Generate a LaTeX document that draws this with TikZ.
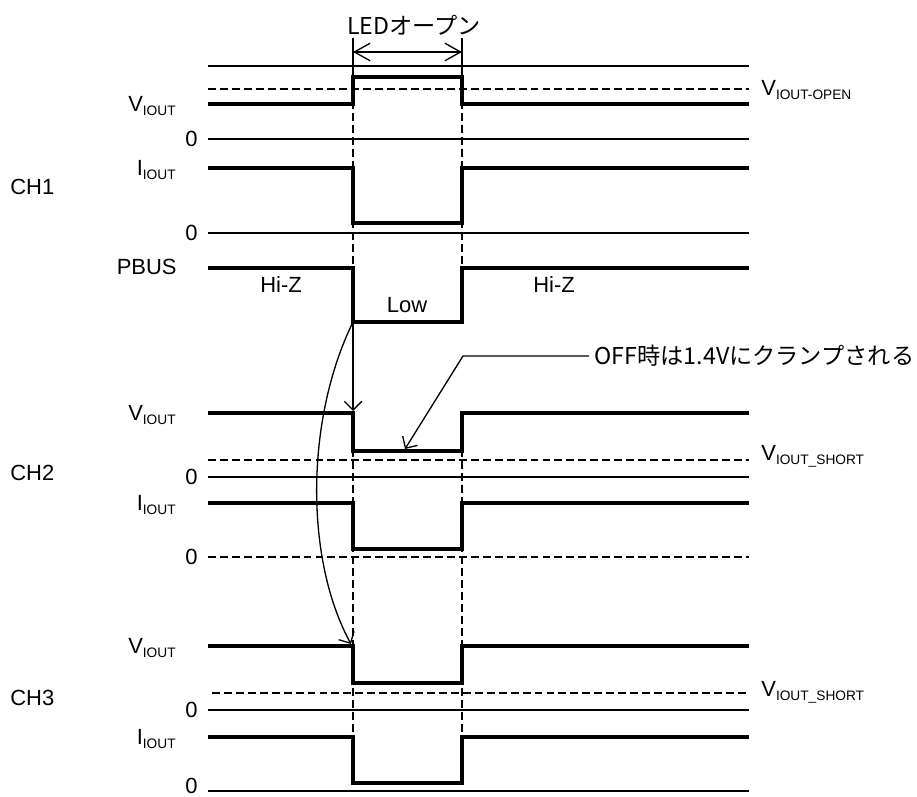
\documentclass[tikz,border=0pt]{standalone}
\usepackage{fontspec}
\setmainfont{Liberation Sans}
\newfontfamily\jpfont{Noto Sans CJK JP}
\usetikzlibrary{arrows.meta}
\newcommand{\lowtxt}[1]{\raisebox{-0.35ex}{\fontsize{7.8}{9}\selectfont #1}}
\tikzset{
  sig/.style={line width=2pt},
  fine/.style={line width=0.75pt},
  lvl/.style={line width=1.5pt,dash pattern=on 4.5pt off 2.3pt},
  lbl/.style={anchor=east,inner sep=0pt},
  rlbl/.style={anchor=west,inner sep=0pt},
  jp/.style={font=\fontsize{13.2}{16}\selectfont\jpfont},
  dim/.style={fine,{Straight Barb[length=9pt,width=10pt]}-{Straight Barb[length=9pt,width=10pt]}}
}
\begin{document}
\begin{tikzpicture}[x=0.02cm,y=-0.02cm,font=\fontsize{12.5}{15}\selectfont,
    >={Straight Barb[length=5pt,width=10pt]}]
    \useasboundingbox (0,0) rectangle (917,797);
      \draw (414,25) node[jp] (led) {LEDオープン};
      \draw[fine] (353,38) -- (353,77);
      \draw[fine] (462,38) -- (462,77);
      \coordinate (dl) at (353,52);
      \coordinate (dr) at (462,52);
      \draw[dim] (dl) -- (dr);

      \draw[lvl] (353,77) -- (353,268);
      \draw[lvl] (462,77) -- (462,268);
      \draw[lvl] (353,413) -- (353,737);
      \draw[lvl] (462,413) -- (462,737);

      \draw (10,187) node[rlbl] (ch1) {CH1};
      \draw (10,473) node[rlbl] (ch2) {CH2};
      \draw (10,698) node[rlbl] (ch3) {CH3};

      \draw[fine] (208,66) -- (749,66);
      \draw[lvl] (208,89) -- (749,89);
      \draw (761,90) node[rlbl] (vopen) {V\lowtxt{IOUT-OPEN}};
      \draw[sig] (208,104) -- (353,104) -- (353,77) -- (462,77) -- (462,104) -- (749,104);
      \draw (176,106) node[lbl] (v1) {V\lowtxt{IOUT}};
      \draw[fine] (208,139) -- (749,139);
      \draw (198,139) node[lbl] (z1v) {0};
      \draw[sig] (208,168) -- (353,168) -- (353,223) -- (462,223) -- (462,168) -- (749,168);
      \draw (176,170) node[lbl] (i1) {I\lowtxt{IOUT}};
      \draw[fine] (208,233) -- (749,233);
      \draw (198,233) node[lbl] (z1i) {0};
      \draw[sig] (208,268) -- (353,268) -- (353,322) -- (462,322) -- (462,268) -- (749,268);
      \draw (177,267) node[lbl] (pb) {PBUS};
      \draw (281,285) node (hz1) {Hi-Z};
      \draw (554,285) node (hz2) {Hi-Z};
      \draw (407,305) node (low) {Low};

      \draw[sig] (208,413) -- (353,413) -- (353,451) -- (462,451) -- (462,413) -- (749,413);
      \draw (176,415) node[lbl] (v2) {V\lowtxt{IOUT}};
      \draw[lvl] (208,460) -- (749,460);
      \draw (761,456) node[rlbl] (vs2) {V\lowtxt{IOUT\_SHORT}};
      \draw[fine] (208,477) -- (749,477);
      \draw (198,477) node[lbl] (z2v) {0};
      \draw[sig] (208,503) -- (353,503) -- (353,549) -- (462,549) -- (462,503) -- (749,503);
      \draw (176,505) node[lbl] (i2) {I\lowtxt{IOUT}};
      \draw[lvl] (208,557) -- (749,557);
      \draw (198,557) node[lbl] (z2i) {0};

      \draw[sig] (208,646) -- (353,646) -- (353,683) -- (462,683) -- (462,646) -- (749,646);
      \draw (176,648) node[lbl] (v3) {V\lowtxt{IOUT}};
      \draw[lvl] (212,693) -- (749,693);
      \draw (761,692) node[rlbl] (vs3) {V\lowtxt{IOUT\_SHORT}};
      \draw[fine] (208,710) -- (749,710);
      \draw (198,710) node[lbl] (z3v) {0};
      \draw[sig] (208,737) -- (353,737) -- (353,783) -- (462,783) -- (462,737) -- (749,737);
      \draw (176,739) node[lbl] (i3) {I\lowtxt{IOUT}};
      \draw[fine] (208,791) -- (749,791);
      \draw (198,786) node[lbl] (z3i) {0};

      \coordinate (pl) at (353,322);
      \coordinate (t2) at (353,411);
      \coordinate (t3) at (351,644);
      \coordinate (bend) at (463,356);
      \coordinate (clamp) at (405,449);
      \draw[fine,->] (pl) -- (t2);
      \draw[fine,->] (pl) .. controls (305,420) and (305,560) .. (t3);
      \draw (589,356) node[jp,anchor=west,inner sep=3pt] (note) {OFF時は1.4Vにクランプされる};
      \draw[fine,->] (note.west) -- (bend) -- (clamp);
\end{tikzpicture}
\end{document}
